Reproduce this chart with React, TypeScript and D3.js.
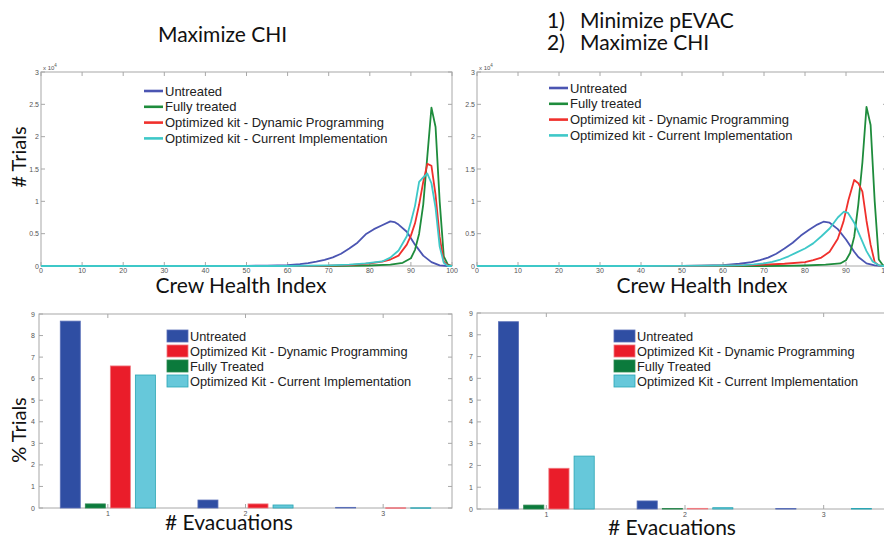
import * as d3 from 'd3';

// CHI histograms (x = Crew Health Index, y = # trials in units of 10^4)
const leftUntreated: [number, number][] = [
  [0, 0], [40, 0], [50, 0.003], [55, 0.006], [60, 0.015], [63, 0.03], [65, 0.045], [67, 0.066],
  [69, 0.095], [71, 0.134], [73, 0.19], [75, 0.27], [77, 0.36], [79, 0.49], [81, 0.57], [83, 0.63],
  [85, 0.69], [86, 0.68], [87, 0.64], [89, 0.53], [91, 0.33], [93, 0.16], [95, 0.06], [97, 0.01], [99, 0], [100, 0],
];
const leftFully: [number, number][] = [
  [0, 0], [70, 0], [75, 0.003], [80, 0.008], [85, 0.02], [88, 0.05], [90, 0.12], [91, 0.25],
  [92, 0.5], [93, 0.95], [94, 1.7], [95, 2.45], [96, 2.15], [97, 1.0], [98, 0.15], [99, 0.02], [100, 0],
];
const leftDynProg: [number, number][] = [
  [0, 0], [60, 0], [70, 0.005], [75, 0.015], [80, 0.04], [83, 0.066], [85, 0.1], [87, 0.16],
  [89, 0.33], [90, 0.47], [91, 0.66], [92, 0.95], [93, 1.3], [94, 1.58], [95, 1.55], [96, 1.1],
  [97, 0.45], [98, 0.07], [99, 0.01], [100, 0],
];
const leftCurrent: [number, number][] = [
  [0, 0], [60, 0], [70, 0.01], [75, 0.02], [79, 0.04], [83, 0.07], [85, 0.13], [87, 0.24],
  [89, 0.46], [90, 0.68], [91, 0.93], [92, 1.3], [93, 1.37], [94, 1.43], [95, 1.28], [96, 0.9],
  [97, 0.3], [98, 0.05], [99, 0], [100, 0],
];

const rightUntreated: [number, number][] = [
  [0, 0], [40, 0], [50, 0.003], [55, 0.006], [60, 0.015], [64, 0.035], [67, 0.06], [69, 0.09],
  [71, 0.13], [73, 0.19], [75, 0.27], [77, 0.36], [79, 0.47], [81, 0.56], [83, 0.64], [84.5, 0.685],
  [86, 0.67], [88, 0.57], [90, 0.41], [92, 0.22], [93, 0.14], [95, 0.04], [97, 0.01], [99, 0], [100, 0],
];
const rightFully: [number, number][] = [
  [0, 0], [70, 0], [75, 0.003], [80, 0.008], [85, 0.02], [88.6, 0.04], [90, 0.09], [91, 0.2],
  [92, 0.45], [93, 0.95], [94, 1.6], [95, 2.46], [96, 2.18], [97, 1.0], [98, 0.1], [99, 0.01], [100, 0],
];
const rightDynProg: [number, number][] = [
  [0, 0], [50, 0], [60, 0.005], [65, 0.01], [70, 0.02], [75, 0.035], [80, 0.06], [82, 0.09],
  [84, 0.13], [86, 0.22], [88, 0.42], [89.4, 0.69], [90.6, 1.02], [92, 1.33], [93, 1.28], [94, 1.15],
  [95, 0.7], [96, 0.33], [97, 0.06], [98, 0.01], [99, 0], [100, 0],
];
const rightCurrent: [number, number][] = [
  [0, 0], [40, 0], [50, 0.003], [60, 0.008], [65, 0.015], [67.5, 0.025], [70, 0.04], [72, 0.065],
  [74, 0.1], [76, 0.15], [78, 0.21], [80, 0.27], [82, 0.35], [84, 0.46], [86, 0.58], [88, 0.75],
  [89.5, 0.84], [90.5, 0.82], [92, 0.67], [93.5, 0.45], [95, 0.23], [96.5, 0.07], [98, 0.01], [99, 0], [100, 0],
];

const curveNames = [
  'Untreated',
  'Fully treated',
  'Optimized kit - Dynamic Programming',
  'Optimized kit - Current Implementation',
];
const curveColors = ['#4b55b2', '#1e8c3c', '#f0302c', '#3ec8c8'];

// Evacuation bars (% trials), groups 1..3, bar order: untreated, fully, dyn prog, current
const evacuations = [1, 2, 3];
const leftEvacUntreated = [8.67, 0.37, 0.03];
const leftEvacFully = [0.19, 0, 0];
const leftEvacDynProg = [6.59, 0.19, 0.01];
const leftEvacCurrent = [6.17, 0.14, 0.01];
const rightEvacUntreated = [8.6, 0.37, 0.02];
const rightEvacFully = [0.18, 0.02, 0];
const rightEvacDynProg = [1.87, 0.03, 0];
const rightEvacCurrent = [2.43, 0.06, 0.02];

const barKeys = ['untreated', 'fully', 'dynprog', 'current'];
const barFill: Record<string, string> = {
  untreated: '#2f4ea3', fully: '#0b7a3c', dynprog: '#ea1d2a', current: '#66c8da',
};
const barStroke: Record<string, string> = {
  untreated: '#5a6fb8', fully: '#2f8a52', dynprog: '#f07a80', current: '#2aa6b4',
};
const barLegend = [
  { key: 'untreated', label: 'Untreated' },
  { key: 'dynprog', label: 'Optimized Kit - Dynamic Programming' },
  { key: 'fully', label: 'Fully Treated' },
  { key: 'current', label: 'Optimized Kit - Current Implementation' },
];

const AXIS = '#a8a8a8';
const TICK_TXT = '#555';
const TITLE_FONT = 'Lato, "Open Sans", sans-serif';
const SMALL_FONT = '"Liberation Sans", Arial, sans-serif';

function CurvePanel({ x0, x1, y0, y1, series, legendX, legendY, labelX }: {
  x0: number; x1: number; y0: number; y1: number;
  series: [number, number][][]; legendX: number; legendY: number; labelX: number;
}) {
  const x = d3.scaleLinear().domain([0, 100]).range([x0, x1]);
  const y = d3.scaleLinear().domain([0, 3]).range([y1, y0]);
  const line = d3.line<[number, number]>().x(d => x(d[0])).y(d => y(d[1]));
  const xt = x.ticks(10);
  const yt = d3.range(0, 3.01, 0.5);
  return (
    <g>
      <rect x={x0} y={y0} width={x1 - x0} height={y1 - y0} fill="white" stroke={AXIS} strokeWidth={1} />
      {xt.map(t => (
        <g key={'x' + t}>
          <line x1={x(t)} x2={x(t)} y1={y1} y2={y1 - 4} stroke={AXIS} />
          <line x1={x(t)} x2={x(t)} y1={y0} y2={y0 + 4} stroke={AXIS} />
          <text x={x(t)} y={y1 + 6.5} fontSize={7} fill={TICK_TXT} textAnchor="middle" fontFamily={SMALL_FONT}>{t}</text>
        </g>
      ))}
      {yt.map(t => (
        <g key={'y' + t}>
          <line x1={x0} x2={x0 + 4} y1={y(t)} y2={y(t)} stroke={AXIS} />
          <line x1={x1} x2={x1 - 4} y1={y(t)} y2={y(t)} stroke={AXIS} />
          <text x={x0 - 2} y={y(t) + 2.5} fontSize={7} fill={TICK_TXT} textAnchor="end" fontFamily={SMALL_FONT}>{d3.format('~g')(t)}</text>
        </g>
      ))}
      <text x={x0 + 2} y={y0 - 2} fontSize={6} fill={TICK_TXT} fontFamily={SMALL_FONT}>
        x 10<tspan dy={-3} fontSize={4.5}>4</tspan>
      </text>
      {series.map((s, i) => (
        <path key={i} d={line(s) || ''} fill="none" stroke={curveColors[i]} strokeWidth={1.8} strokeLinejoin="round" />
      ))}
      {curveNames.map((n, i) => (
        <g key={n} transform={`translate(${legendX},${legendY + i * 15.8})`}>
          <line x1={0} x2={19} y1={0} y2={0} stroke={curveColors[i]} strokeWidth={2.6} />
          <text x={21} y={4.5} fontSize={13} fill="#222" fontFamily={SMALL_FONT}>{n}</text>
        </g>
      ))}
      <text x={labelX} y={y1 + 27} fontSize={21} textAnchor="middle" fontFamily={TITLE_FONT} fill="#111">Crew Health Index</text>
    </g>
  );
}

function BarPanel({ x0, x1, y0, y1, values, legendX, labelX, labelY }: {
  x0: number; x1: number; y0: number; y1: number;
  values: number[][]; legendX: number; labelX: number; labelY: number;
}) {
  const x = d3.scaleLinear().domain([0.5, 3.5]).range([x0, x1]);
  const y = d3.scaleLinear().domain([0, 9]).range([y1, y0]);
  const unit = x(1) - x(0);
  const groupW = (4 / 5.5) * unit;
  const inner = d3.scaleBand<string>().domain(barKeys).range([-groupW / 2, groupW / 2]).paddingInner(0.2).paddingOuter(0.1);
  return (
    <g>
      <rect x={x0} y={y0} width={x1 - x0} height={y1 - y0} fill="white" stroke={AXIS} strokeWidth={1} />
      {evacuations.map(t => (
        <g key={'x' + t}>
          <line x1={x(t)} x2={x(t)} y1={y1} y2={y1 - 4} stroke={AXIS} />
          <line x1={x(t)} x2={x(t)} y1={y0} y2={y0 + 4} stroke={AXIS} />
          <text x={x(t)} y={y1 + 8} fontSize={7} fill={TICK_TXT} textAnchor="middle" fontFamily={SMALL_FONT}>{t}</text>
        </g>
      ))}
      {y.ticks(9).map(t => (
        <g key={'y' + t}>
          <line x1={x0} x2={x0 + 4} y1={y(t)} y2={y(t)} stroke={AXIS} />
          <line x1={x1} x2={x1 - 4} y1={y(t)} y2={y(t)} stroke={AXIS} />
          <text x={x0 - 4} y={y(t) + 2.5} fontSize={7} fill={TICK_TXT} textAnchor="end" fontFamily={SMALL_FONT}>{t}</text>
        </g>
      ))}
      {barKeys.map((k, si) =>
        evacuations.map((e, gi) => {
          const v = values[si][gi];
          if (v <= 0) return null;
          const bx = x(e) + (inner(k) || 0);
          return (
            <rect key={k + e} x={bx} y={y(v)} width={inner.bandwidth()} height={Math.max(y1 - y(v), 0.5)}
              fill={barFill[k]} stroke={barStroke[k]} strokeWidth={0.8} />
          );
        })
      )}
      {barLegend.map((b, i) => (
        <g key={b.key} transform={`translate(${legendX},${336 + i * 15})`}>
          <rect x={0} y={-6} width={21} height={12} fill={barFill[b.key]} stroke={barStroke[b.key]} strokeWidth={0.8} />
          <text x={23} y={4.5} fontSize={12.8} fill="#222" fontFamily={SMALL_FONT}>{b.label}</text>
        </g>
      ))}
      <text x={labelX} y={labelY} fontSize={21} textAnchor="middle" fontFamily={TITLE_FONT} fill="#111"># Evacuations</text>
    </g>
  );
}

export default function App() {
  return (
    <svg width={884} height={538} style={{ position: 'absolute', left: 0, top: 0, background: 'white' }}>
      <rect width={884} height={538} fill="white" />
      <text x={158} y={42} fontSize={21} fontFamily={TITLE_FONT} fill="#111">Maximize CHI</text>
      <text x={547} y={28} fontSize={21} fontFamily={TITLE_FONT} fill="#111">1)</text>
      <text x={580} y={28} fontSize={21} fontFamily={TITLE_FONT} fill="#111">Minimize pEVAC</text>
      <text x={547} y={50} fontSize={21} fontFamily={TITLE_FONT} fill="#111">2)</text>
      <text x={580} y={50} fontSize={21} fontFamily={TITLE_FONT} fill="#111">Maximize CHI</text>

      <CurvePanel x0={41} x1={452} y0={72} y1={266}
        series={[leftUntreated, leftFully, leftDynProg, leftCurrent]}
        legendX={144} legendY={91} labelX={241} />
      <CurvePanel x0={477} x1={887} y0={72} y1={266}
        series={[rightUntreated, rightFully, rightDynProg, rightCurrent]}
        legendX={549} legendY={88} labelX={702} />

      <BarPanel x0={39} x1={452} y0={314} y1={508}
        values={[leftEvacUntreated, leftEvacFully, leftEvacDynProg, leftEvacCurrent]}
        legendX={167} labelX={229} labelY={530} />
      <BarPanel x0={477} x1={893} y0={313} y1={509}
        values={[rightEvacUntreated, rightEvacFully, rightEvacDynProg, rightEvacCurrent]}
        legendX={614} labelX={672} labelY={535} />

      <text transform="translate(26,157) rotate(-90)" fontSize={20} textAnchor="middle" fontFamily={TITLE_FONT} fill="#111"># Trials</text>
      <text transform="translate(26,430) rotate(-90)" fontSize={20} textAnchor="middle" fontFamily={TITLE_FONT} fill="#111">% Trials</text>
    </svg>
  );
}
